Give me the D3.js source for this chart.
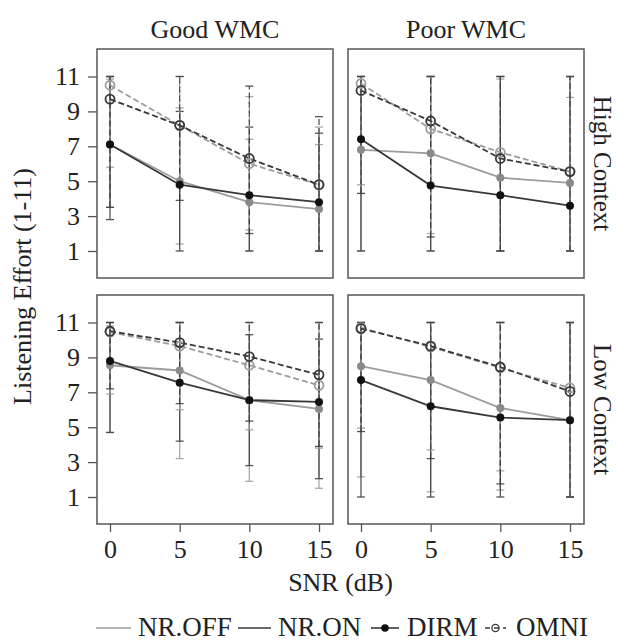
<!DOCTYPE html>
<html>
<head>
<meta charset="utf-8">
<script src="https://cdn.jsdelivr.net/npm/d3@7"></script>
<style>
  body { margin: 0; background: #fff; }
  text { font-family: "Liberation Serif", "Times New Roman", serif; fill: #222; }
</style>
</head>
<body>
<svg id="chart" width="617" height="643"></svg>
<script>
// --- data ---
const snr = [0, 5, 10, 15];
const wmcGroups = ["Good WMC", "Poor WMC"];
const contexts = ["High Context", "Low Context"];
const yTicks = [1, 3, 5, 7, 9, 11];
const seriesKeys = ["offDirm", "onDirm", "offOmni", "onOmni"];

// mean listening effort per series
const goodHighMean = { offDirm: [7.1, 5.0, 3.8, 3.4], onDirm: [7.1, 4.8, 4.2, 3.8], offOmni: [10.5, 8.2, 6.0, 4.8], onOmni: [9.7, 8.2, 6.3, 4.8] };
const poorHighMean = { offDirm: [6.8, 6.6, 5.2, 4.9], onDirm: [7.4, 4.75, 4.2, 3.6], offOmni: [10.6, 8.0, 6.65, 5.55], onOmni: [10.2, 8.45, 6.3, 5.55] };
const goodLowMean  = { offDirm: [8.55, 8.25, 6.55, 6.05], onDirm: [8.8, 7.55, 6.55, 6.45], offOmni: [10.45, 9.65, 8.55, 7.4], onOmni: [10.5, 9.85, 9.05, 8.0] };
const poorLowMean  = { offDirm: [8.5, 7.7, 6.1, 5.4], onDirm: [7.7, 6.2, 5.55, 5.4], offOmni: [10.7, 9.6, 8.4, 7.25], onOmni: [10.65, 9.65, 8.45, 7.05] };

// error bar lower ends
const goodHighLow = { offDirm: [3.5, 1.4, 1, 1], onDirm: [2.8, 1, 1, 1], offOmni: [5.8, 4.7, 2.2, 1], onOmni: [3.5, 3.9, 2.0, 1] };
const poorHighLow = { offDirm: [1, 1, 1, 1], onDirm: [1, 1, 1, 1], offOmni: [4.8, 2.0, 1, 1], onOmni: [4.3, 1.8, 1, 1] };
const goodLowLow  = { offDirm: [4.7, 3.2, 1.9, 1.5], onDirm: [4.7, 4.2, 2.8, 2.05], offOmni: [6.9, 6.0, 4.85, 3.8], onOmni: [7.2, 6.35, 5.35, 3.9] };
const poorLowLow  = { offDirm: [2.15, 1.3, 1.4, 1], onDirm: [1, 1, 1, 1], offOmni: [4.95, 3.7, 2.5, 1], onOmni: [4.75, 3.2, 1.75, 1] };

// error bar upper ends
const goodHighHigh = { offDirm: [10.85, 9.2, 7.4, 7.1], onDirm: [11, 9.0, 8.1, 7.75], offOmni: [11, 11, 9.85, 8.1], onOmni: [11, 11, 10.45, 8.7] };
const poorHighHigh = { offDirm: [11, 11, 10.85, 9.8], onDirm: [11, 11, 11, 11], offOmni: [11, 11, 11, 11], onOmni: [11, 11, 11, 11] };
const goodLowHigh  = { offDirm: [10.8, 11, 11, 11], onDirm: [11, 11, 10.3, 10.05], offOmni: [11, 11, 11, 11], onOmni: [11, 11, 11, 11] };
const poorLowHigh  = { offDirm: [11, 11, 11, 11], onDirm: [11, 11, 11, 11], offOmni: [11, 11, 11, 11], onOmni: [11, 11, 11, 11] };

const panels = [
  { col: 0, row: 0, mean: goodHighMean, lo: goodHighLow, hi: goodHighHigh },
  { col: 1, row: 0, mean: poorHighMean, lo: poorHighLow, hi: poorHighHigh },
  { col: 0, row: 1, mean: goodLowMean, lo: goodLowLow, hi: goodLowHigh },
  { col: 1, row: 1, mean: poorLowMean, lo: poorLowLow, hi: poorLowHigh }
];

// --- styling ---
const offColor = "#9c9c9c";
const onColor = "#383838";
const style = {
  offDirm: { color: offColor, dash: null, omni: false, fill: "#8a8a8a" },
  onDirm:  { color: onColor, dash: null, omni: false, fill: "#111" },
  offOmni: { color: offColor, dash: "6,3", omni: true },
  onOmni:  { color: onColor, dash: "6,3", omni: true }
};

const svg = d3.select("#chart");
const panelW = 236, panelH = 229;
const lefts = [97, 348], tops = [49, 295];

const x = d3.scaleLinear().domain([0, 15]).range([13, 222]);
const y = d3.scaleLinear().domain([1, 11]).range([202, 27.5]);

panels.forEach(p => {
  const g = svg.append("g")
    .attr("transform", `translate(${lefts[p.col]},${tops[p.row]})`);

  // error bars
  seriesKeys.forEach(k => {
    const s = style[k];
    const bars = g.append("g").attr("opacity", 0.85);
    snr.forEach((v, i) => {
      const cx = x(v), y0 = y(p.lo[k][i]), y1 = y(p.hi[k][i]);
      bars.append("line")
        .attr("x1", cx).attr("x2", cx).attr("y1", y0).attr("y2", y1)
        .attr("stroke", s.color).attr("stroke-width", 1.3)
        .attr("stroke-dasharray", s.dash);
      [y0, y1].forEach(yy => {
        bars.append("line")
          .attr("x1", cx - 4).attr("x2", cx + 4).attr("y1", yy).attr("y2", yy)
          .attr("stroke", s.color).attr("stroke-width", 1.3);
      });
    });
  });

  const line = d3.line().x((d, i) => x(snr[i])).y(d => y(d));

  // lines
  seriesKeys.forEach(k => {
    const s = style[k];
    g.append("path")
      .datum(p.mean[k])
      .attr("d", line)
      .attr("fill", "none")
      .attr("stroke", s.color)
      .attr("stroke-width", 1.8)
      .attr("stroke-dasharray", s.dash);
  });

  // points
  seriesKeys.forEach(k => {
    const s = style[k];
    g.selectAll(null)
      .data(p.mean[k])
      .enter()
      .append("circle")
      .attr("cx", (d, i) => x(snr[i]))
      .attr("cy", d => y(d))
      .attr("r", s.omni ? 4.5 : 4)
      .attr("fill", s.omni ? "none" : s.fill)
      .attr("stroke", s.omni ? s.color : "none")
      .attr("stroke-width", 1.8);
  });

  // panel border
  g.append("rect")
    .attr("width", panelW).attr("height", panelH)
    .attr("fill", "none").attr("stroke", "#555").attr("stroke-width", 1.5);

  // axes
  if (p.col === 0) {
    const ay = g.append("g").call(d3.axisLeft(y).tickValues(yTicks).tickSize(9).tickPadding(8));
    ay.select(".domain").remove();
    ay.selectAll("line").attr("stroke", "#555").attr("stroke-width", 1.3);
    ay.selectAll("text").attr("font-family", null).style("font-size", "26px").attr("fill", "#222");
  }
  if (p.row === 1) {
    const ax = g.append("g")
      .attr("transform", `translate(0,${panelH})`)
      .call(d3.axisBottom(x).tickValues(snr).tickSize(8));
    ax.select(".domain").remove();
    ax.selectAll("line").attr("stroke", "#555").attr("stroke-width", 1.3);
    ax.selectAll("text").attr("y", 34).attr("dy", null)
      .attr("font-family", null).style("font-size", "26px").attr("fill", "#222");
  }
});

// strip labels
wmcGroups.forEach((t, i) => {
  svg.append("text")
    .attr("x", lefts[i] + panelW / 2).attr("y", 38)
    .attr("text-anchor", "middle").style("font-size", "26px")
    .text(t);
});
contexts.forEach((t, i) => {
  svg.append("text")
    .attr("transform", `translate(594,${tops[i] + panelH / 2}) rotate(90)`)
    .attr("text-anchor", "middle").style("font-size", "25px")
    .text(t);
});

// axis titles
svg.append("text")
  .attr("transform", `translate(31,${(tops[0] + tops[1] + panelH) / 2}) rotate(-90)`)
  .attr("text-anchor", "middle").style("font-size", "26px")
  .text("Listening Effort (1-11)");

svg.append("text")
  .attr("x", (lefts[0] + lefts[1] + panelW) / 2).attr("y", 591)
  .attr("text-anchor", "middle").style("font-size", "26px")
  .text("SNR (dB)");

// legend: symbol span and label start for each key
const legY = 636, symY = 628;
const leg = svg.append("g");
const legendItems = [
  { label: "NR.OFF", color: offColor, dash: null, pt: null, x0: 96, x1: 131, tx: 138 },
  { label: "NR.ON", color: onColor, dash: null, pt: null, x0: 238, x1: 271, tx: 278 },
  { label: "DIRM", color: onColor, dash: null, pt: "dot", x0: 371, x1: 399, tx: 407 },
  { label: "OMNI", color: onColor, dash: "5,4", pt: "ring", x0: 485, x1: 506, tx: 516 }
];
legendItems.forEach(d => {
  leg.append("line")
    .attr("x1", d.x0).attr("x2", d.x1).attr("y1", symY).attr("y2", symY)
    .attr("stroke", d.color).attr("stroke-width", 1.6)
    .attr("stroke-dasharray", d.dash);
  const cx = (d.x0 + d.x1) / 2;
  if (d.pt === "dot") {
    leg.append("circle").attr("cx", cx).attr("cy", symY).attr("r", 3.8).attr("fill", "#111");
  } else if (d.pt === "ring") {
    leg.append("circle").attr("cx", cx).attr("cy", symY).attr("r", 3.6)
      .attr("fill", "none").attr("stroke", d.color).attr("stroke-width", 1.3);
  }
  leg.append("text").attr("x", d.tx).attr("y", legY).style("font-size", "27px").text(d.label);
});
</script>
</body>
</html>
